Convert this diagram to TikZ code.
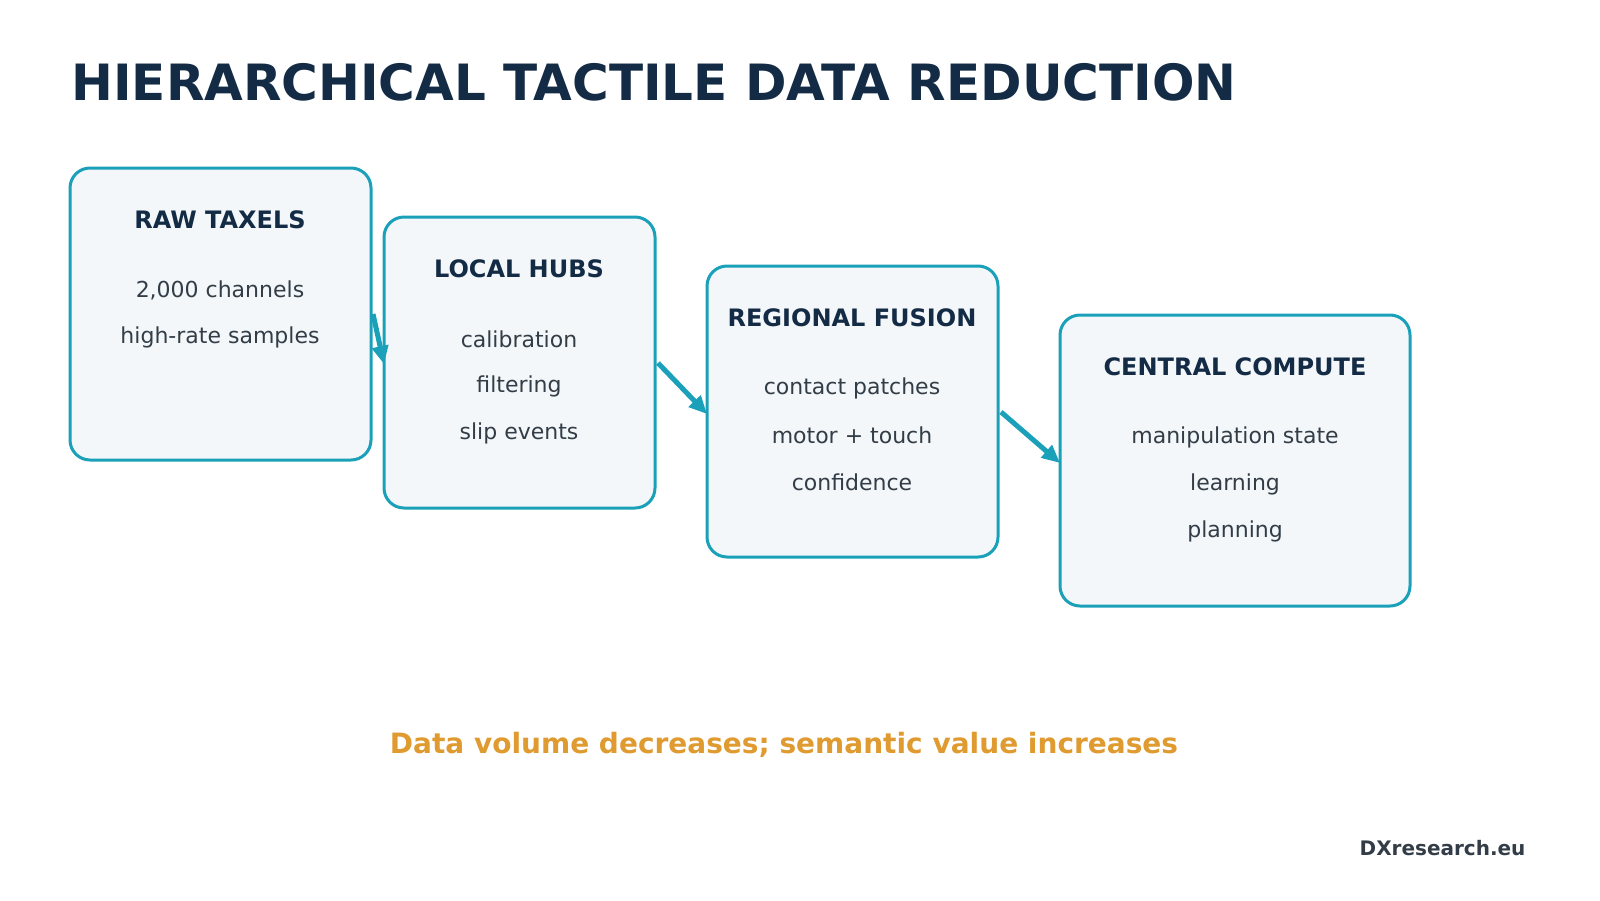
\documentclass[tikz,border=0pt]{standalone}
\usepackage{fontspec}
\setmainfont{DejaVu Sans}
\usetikzlibrary{arrows.meta}
\definecolor{teal}{HTML}{1AA0B8}
\definecolor{boxfill}{HTML}{F3F7F9}
\definecolor{navy}{HTML}{142B45}
\definecolor{bodytxt}{HTML}{333D47}
\definecolor{orng}{HTML}{DF9A30}
\begin{document}
\begin{tikzpicture}[x=1pt,y=-1pt,
  box/.style={draw=teal,fill=boxfill,line width=3pt,rounded corners=20pt},
  head/.style={font=\fontsize{24}{28}\selectfont\bfseries,text=navy},
  body/.style={font=\fontsize{22}{26}\selectfont,text=bodytxt},
  arr/.style={draw=teal,line width=5pt,-{Triangle[length=18pt,width=16pt]}}]
\useasboundingbox (0,0) rectangle (1600,900);
\node[anchor=base west,font=\fontsize{50}{56}\selectfont\bfseries,text=navy] (title) at (68,100) {HIERARCHICAL TACTILE DATA REDUCTION};
\path[box] (70,168) rectangle (371,460);
\path[box] (384,217) rectangle (655,508);
\path[box] (707,266) rectangle (998,557);
\path[box] (1060,315) rectangle (1410,606);
\node[head] (h1) at (220,220) {RAW TAXELS};
\node[body] (a1) at (220,290) {2,000 channels};
\node[body] (a2) at (220,337) {high-rate samples};
\node[head] (h2) at (519,269) {LOCAL HUBS};
\node[body] (b1) at (519,339) {calibration};
\node[body] (b2) at (519,386) {filtering};
\node[body] (b3) at (519,433) {slip events};
\node[head] (h3) at (852,318) {REGIONAL FUSION};
\node[body] (c1) at (852,388) {contact patches};
\node[body] (c2) at (852,435) {motor + touch};
\node[body] (c3) at (852,482) {confidence};
\node[head] (h4) at (1235,367) {CENTRAL COMPUTE};
\node[body] (d1) at (1235,437) {manipulation state};
\node[body] (d2) at (1235,484) {learning};
\node[body] (d3) at (1235,531) {planning};
\coordinate (s1) at (373,314); \coordinate (e1) at (384,364);
\coordinate (s2) at (658,363); \coordinate (e2) at (707,414);
\coordinate (s3) at (1001,412); \coordinate (e3) at (1060,463);
\draw[arr] (s1) -- (e1);
\draw[arr] (s2) -- (e2);
\draw[arr] (s3) -- (e3);
\node[font=\fontsize{28}{32}\selectfont\bfseries,text=orng] (foot) at (784,745) {Data volume decreases; semantic value increases};
\node[anchor=east,font=\fontsize{20}{24}\selectfont\bfseries,text=bodytxt] (brand) at (1529,848) {DXresearch.eu};
\end{tikzpicture}
\end{document}
